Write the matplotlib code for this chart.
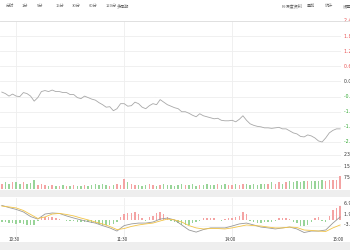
import numpy as np
import matplotlib.pyplot as plt

plt.rcParams['font.family'] = ['Noto Sans CJK SC', 'DejaVu Sans']

W, H = 350, 250

# trading minutes since 9:30 (lunch break removed), one sample every 2 minutes
minutes = np.arange(52, 241, 2)
pct_change = [
    -0.42, -0.48, -0.58, -0.50, -0.58, -0.60, -0.44, -0.48, -0.58, -0.78,
    -0.64, -0.40, -0.36, -0.40, -0.34, -0.40, -0.40, -0.44, -0.44, -0.52,
    -0.52, -0.64, -0.68, -0.58, -0.64, -0.70, -0.74, -0.84, -0.92, -1.02,
    -1.00, -1.16, -1.08, -0.88, -0.88, -0.98, -0.96, -0.82, -0.88, -1.02,
    -1.08, -0.96, -0.88, -0.92, -0.72, -0.82, -0.92, -0.98, -1.04, -1.08,
    -1.20, -1.20, -1.26, -1.34, -1.40, -1.28, -1.36, -1.40, -1.44, -1.48,
    -1.46, -1.54, -1.56, -1.56, -1.54, -1.60, -1.50, -1.36, -1.54, -1.68,
    -1.74, -1.78, -1.80, -1.84, -1.84, -1.86, -1.84, -1.82, -1.88, -1.88,
    -1.96, -2.04, -2.08, -2.18, -2.20, -2.12, -2.16, -2.24, -2.36, -2.40,
    -2.24, -2.04, -1.94, -1.88, -1.88,
]
volume = [
    34, 41, 34, 41, 41, 34, 41, 34, 38, 61,
    27, 34, 27, 20, 27, 20, 20, 27, 20, 20, 27, 20, 20, 27, 20, 27, 34, 27,
    34, 27, 20, 27, 34, 27,
    68,
    41, 34, 27, 27, 20, 27, 34, 27, 20, 27, 34, 27, 27, 20, 27, 34, 27, 27,
    34, 20, 27, 27, 34, 27, 27, 34, 27, 34, 27, 27, 34, 27, 34, 34, 27, 34,
    27, 34, 34,
    34, 41, 34, 41, 34, 41, 48, 41,
    48, 41, 48, 54, 48, 54, 54, 61, 54, 61, 61, 61,
    88,
]
macd_hist = [
    -1.0, -1.4, -1.9, -1.9, -2.1, -1.9, -2.1, -2.4, -2.6, -2.4,
    -0.5, 1.0, 1.4, 1.2, 1.0, 0.7, 0.2, -0.2, -0.5, -0.5,
    -0.7, -1.0, -1.4, -1.4, -1.2, -1.7, -1.9, -2.1, -2.4, -2.4,
    -2.6, -2.1, -1.0, 1.4, 2.4, 2.9, 3.3, 3.8, 2.4, 0.5,
    -0.7, 1.0, 1.9, 2.9, 3.8, 2.4, 1.0, -0.7, -1.0, -1.7,
    -2.4, -2.6, -2.4, -1.9, -1.4, -0.5, 0.7, 0.7, 0.5, 0.5,
    -0.2, -0.5, 0.2, 0.5, 0.7, 1.0, 1.9, 3.6, 2.4, -0.5,
    -1.4, -1.7, -1.7, -1.4, -1.2, -1.0, -0.5, 0.5, 0.7, 0.7,
    0.2, -1.0, -1.9, -2.9, -3.3, -2.4, -1.0, 0.7, 1.0, -0.5,
    -1.0, 1.9, 4.3, 5.7, 6.2,
]

# MACD lines, one sample every 4 minutes
line_minutes = np.arange(52, 241, 4)
dif = [
    6.7, 5.7, 4.8, 3.6, 1.4, 0.2, 2.6, 3.1, 2.9, 1.7, 0.7, -0.2,
    -1.0, -1.7, -2.9, -4.0, -5.5, -2.9, -2.1, -1.7, -1.7, -1.2, 0.2, 0.7,
    -0.2, -2.6, -5.0, -6.0, -4.8, -4.0, -4.0, -4.0, -3.1, -2.1, -1.7, -2.6,
    -3.6, -4.0, -4.5, -4.0, -3.6, -4.5, -6.2, -5.5, -5.5, -5.0, -1.7, 1.2,
]
dea = [
    6.4, 6.0, 5.5, 4.3, 2.4, 0.5, 1.2, 2.6, 2.9, 2.4, 1.7, 0.7,
    -0.2, -1.2, -2.1, -3.3, -4.8, -4.3, -3.3, -2.6, -2.1, -1.7, -0.7, 0.2,
    -0.2, -1.2, -2.9, -4.0, -4.5, -4.3, -4.3, -4.5, -4.0, -3.3, -2.6, -2.9,
    -3.1, -3.6, -4.0, -4.0, -3.6, -3.8, -5.0, -5.2, -5.5, -5.7, -4.0, -2.6,
]

pct_ticks = [2.4, 1.8, 1.2, 0.6, 0.0, -0.6, -1.2, -1.8, -2.4]
vol_ticks = [230, 150, 75]
vol_labels = ['230万', '150万', '75.0万']
macd_ticks = [6.98, 1.99, -3.0]
time_ticks = [60, 120, 180, 240]
time_labels = ['10:30', '11:30', '14:00', '15:00']
tabs = ['分时', '1分', '5分', '15分', '30分', '60分', '120分', '多周期']
tab_x = [10, 24.5, 40.5, 59.5, 76.5, 93, 111.5, 122.5]
tools = ['F9深度资料', '叠加', '统计', '设置']
tool_x = [292, 311, 329, 347]

RED = '#f4a3a3'
GREEN = '#98d498'
GRID = '#eeeeee'
XMIN, XMAX = 51, 240.5

fig = plt.figure(figsize=(W / 100, H / 100), dpi=100)


def px_axes(x0, y0, x1, y1):
    ax = fig.add_axes([x0 / W, 1 - y1 / H, (x1 - x0) / W, (y1 - y0) / H])
    ax.set_xlim(XMIN, XMAX)
    ax.set_xticks([])
    ax.set_yticks([])
    for s in ax.spines.values():
        s.set_visible(False)
    for t in time_ticks[:3]:
        ax.axvline(t, color=GRID, lw=0.6, zorder=0)
    return ax


def right_label(ax, y, text, color):
    ax.text(XMAX, y, '  ' + text, transform=ax.transData, fontsize=3.3,
            color=color, va='center', ha='left', clip_on=False,
            family=['DejaVu Sans', 'Noto Sans CJK SC'])


# toolbar
bar = fig.add_axes([0, 1 - 20 / H, 1, 20 / H])
bar.set_xlim(0, W)
bar.set_ylim(20, 0)
bar.axis('off')
for x, s in zip(tab_x, tabs):
    bar.text(x, 6, s, fontsize=3, color='#666666', ha='center', va='center')
for x, s in zip(tool_x, tools):
    bar.text(x, 6, s, fontsize=3, color='#666666', ha='center', va='center')
fig.add_artist(plt.Line2D([0, 1], [1 - 20.5 / H] * 2, color='#dddddd', lw=0.6))

# price panel
ax_p = px_axes(0, 21, 341, 146)
ax_p.set_ylim(-2.56, 2.4)
for v in pct_ticks:
    ax_p.axhline(v, color=GRID, lw=0.6, zorder=0)
    c = '#e84c4c' if v > 0 else ('#2aa52a' if v < 0 else '#333333')
    right_label(ax_p, v, f'{v:.2f}%', c)
ax_p.plot(minutes, pct_change, color='#a8a8a8', lw=0.6)

# volume panel
ax_v = px_axes(0, 146, 341, 188.5)
ax_v.set_ylim(0, 289)
for v, s in zip(vol_ticks, vol_labels):
    ax_v.axhline(v, color=GRID, lw=0.6, zorder=0)
    right_label(ax_v, v, s, '#333333')
ax_v.axhline(0, color=GRID, lw=0.6, zorder=0)
prev = np.r_[pct_change[0], pct_change[:-1]]
vol_colors = [RED if p >= q else GREEN for p, q in zip(pct_change, prev)]
ax_v.bar(minutes, volume, width=0.8, color=vol_colors, linewidth=0)

# grey separators
for y0, y1 in [(189.5, 197), (242, 250)]:
    fig.add_artist(plt.Rectangle((0, 1 - y1 / H), 1, (y1 - y0) / H,
                                 color='#eeeeee', lw=0))

# MACD panel
ax_m = px_axes(0, 198, 341, 237)
ax_m.set_ylim(-8.33, 10.24)
for v in macd_ticks:
    ax_m.axhline(v, color='#f4f4f4', lw=0.5, zorder=0)
    right_label(ax_m, v + 0.6, f'{v:.2f}', '#333333')
hist_colors = [RED if h >= 0 else GREEN for h in macd_hist]
ax_m.bar(minutes, macd_hist, width=0.8, color=hist_colors, linewidth=0)
ax_m.plot(line_minutes, dif, color='#999999', lw=0.6)
ax_m.plot(line_minutes, dea, color='#f2c447', lw=0.6)

# time labels
for t, s in zip(time_ticks, time_labels):
    ax_m.text(t - 1.2, -9.7, s, fontsize=3.2, color='#333333', ha='center',
              va='center', clip_on=False)

fig.savefig('out.png', dpi=100, facecolor='white')
